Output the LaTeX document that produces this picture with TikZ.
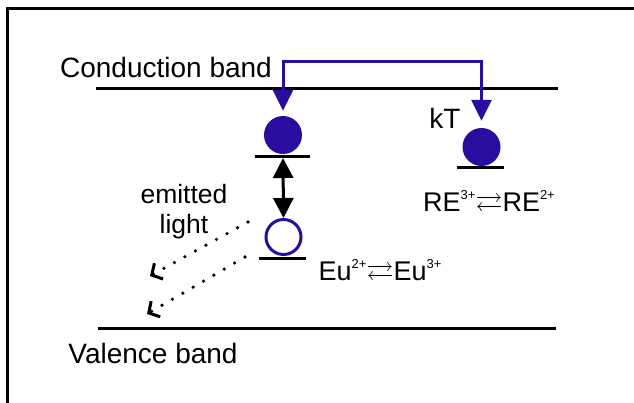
\documentclass[tikz,border=0pt]{standalone}
\usepackage{amssymb}
\usepackage{fontspec}
\setmainfont{Liberation Sans}
\usetikzlibrary{arrows.meta}
\definecolor{eblue}{RGB}{42,12,160}
\newcommand{\supx}[1]{\raisebox{12pt}{\fontsize{13}{13}\selectfont #1}}
\tikzset{
  lbl/.style={font=\fontsize{28}{32}\selectfont, inner sep=0pt},
  eqlbl/.style={font=\fontsize{27}{32}\selectfont, inner sep=0pt},
  level/.style={line width=3pt},
  band/.style={line width=3pt},
  electron/.style={circle, fill=eblue, minimum size=38pt, inner sep=0pt},
  hole/.style={circle, draw=eblue, line width=3pt, minimum size=35pt, inner sep=0pt},
  bluearrow/.style={draw=eblue, line width=3pt,
    {Triangle[length=21pt,width=20pt]}-{Triangle[length=21pt,width=20pt]}},
  blackdbl/.style={line width=3pt,
    {Triangle[length=20pt,width=20pt]}-{Triangle[length=20pt,width=20pt]}},
  photon/.style={line width=3.6pt, line cap=round, dash pattern=on 0pt off 12pt,
    -{Straight Barb[length=8pt,width=18pt,line width=3pt]}}
}
\begin{document}
\begin{tikzpicture}[x=1pt,y=-1pt]
\path[use as bounding box] (0,0) rectangle (634,403);
% frame
\draw[line width=3pt] (7.5,403) -- (7.5,8.5) -- (634,8.5);
% bands
\coordinate (cbL) at (96,89);
\coordinate (cbR) at (558,89);
\coordinate (vbL) at (98,328);
\coordinate (vbR) at (556,328);
\draw[band] (cbL) -- (cbR);
\draw[band] (vbL) -- (vbR);
\node[lbl] (cbt) at (166,67) {Conduction band};
\node[lbl] (vbt) at (153,353) {Valence band};
% Eu levels
\node[electron] (e1) at (283,135) {};
\coordinate (l1a) at (255,157); \coordinate (l1b) at (310,157);
\draw[level] (l1a) -- (l1b);
\node[hole] (h1) at (283.5,237) {};
\coordinate (l2a) at (259,259); \coordinate (l2b) at (306,259);
\draw[level] (l2a) -- (l2b);
% RE level
\node[electron] (e2) at (481.5,147) {};
\coordinate (l3a) at (457,168); \coordinate (l3b) at (504,168);
\draw[level] (l3a) -- (l3b);
% blue transfer arrow
\coordinate (top) at (283,62);
\draw[bluearrow, shorten <=5pt, shorten >=7pt] (e1.north) -- (top) -| (e2.north);
% black double arrow
\coordinate (da1) at (283,158);
\draw[blackdbl] (da1) -- (h1.north);
% labels
\node[lbl] (kt) at (445,118) {kT};
\node[eqlbl] (ret) at (489,203) {RE\supx{3+}$\rightleftarrows$RE\supx{2+}};
\node[eqlbl] (eut) at (380,272) {Eu\supx{2+}$\rightleftarrows$Eu\supx{3+}};
\node[lbl, font=\fontsize{26.5}{30}\selectfont, align=center] (em) at (184,212) {emitted\\light};
% emitted light
\coordinate (p1s) at (248,222); \coordinate (p1e) at (150,276);
\coordinate (p2s) at (245,257); \coordinate (p2e) at (147,314);
\draw[photon] (p1s) -- (p1e);
\draw[photon] (p2s) -- (p2e);
\end{tikzpicture}
\end{document}
